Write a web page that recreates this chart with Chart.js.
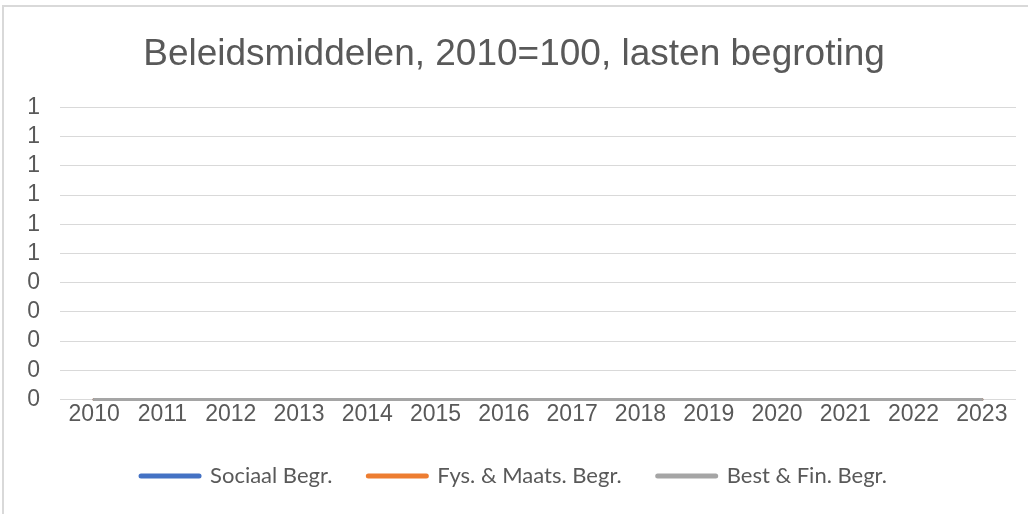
<!DOCTYPE html>
<html lang="nl">
<head>
<meta charset="UTF-8">
<title>Beleidsmiddelen</title>
<style>
    html, body {
        margin: 0;
        padding: 0;
        background: #ffffff;
        overflow: hidden;
    }
    #wrap {
        position: relative;
        width: 1028px;
        height: 514px;
    }
    #frame {
        position: absolute;
        left: 2px;
        top: 5px;
        width: 1100px;
        height: 600px;
        border: 2px solid #d9d9d9;
        pointer-events: none;
    }
</style>
<script src="https://cdn.jsdelivr.net/npm/chart.js"></script>
</head>
<body>
<div id="wrap">
    <canvas id="lineChart" width="1028" height="514"></canvas>
    <div id="frame"></div>
</div>

<script>
// data (all series sit on the zero line)
var years = ['2010', '2011', '2012', '2013', '2014', '2015', '2016', '2017', '2018', '2019', '2020', '2021', '2022', '2023'];
var sociaal = [0, 0, 0, 0, 0, 0, 0, 0, 0, 0, 0, 0, 0, 0];
var fysMaats = [0, 0, 0, 0, 0, 0, 0, 0, 0, 0, 0, 0, 0, 0];
var bestFin = [0, 0, 0, 0, 0, 0, 0, 0, 0, 0, 0, 0, 0, 0];
var seriesNames = ['Sociaal Begr.', 'Fys. & Maats. Begr.', 'Best & Fin. Begr.'];
var seriesColors = ['#4472c4', '#ed7d31', '#a5a5a5'];

function makeSet(i, values) {
    return {
        label: seriesNames[i],
        data: values,
        borderColor: seriesColors[i],
        backgroundColor: seriesColors[i],
        borderWidth: 3,
        borderCapStyle: 'round',
        pointRadius: 0,
        pointHoverRadius: 0,
        pointStyle: 'line',
        tension: 0,
        clip: false,
        order: 3 - i // last series painted on top, like Excel
    };
}

var ctx = document.getElementById('lineChart').getContext('2d');

new Chart(ctx, {
    type: 'line',
    data: {
        labels: years,
        datasets: [makeSet(0, sociaal), makeSet(1, fysMaats), makeSet(2, bestFin)]
    },
    options: {
        responsive: false,
        animation: false,
        layout: {
            padding: { left: 12, right: 12, top: 33, bottom: 17 }
        },
        plugins: {
            title: {
                display: true,
                text: 'Beleidsmiddelen, 2010=100, lasten begroting',
                color: '#595959',
                font: { family: 'Liberation Sans', size: 37, weight: 'normal' },
                padding: { top: 0, bottom: 30 }
            },
            legend: {
                position: 'bottom',
                labels: {
                    usePointStyle: true,
                    pointStyleWidth: 58,
                    color: '#595959',
                    font: { family: 'Lato', size: 22 },
                    padding: 36,
                    generateLabels: function(chart) {
                        var items = Chart.defaults.plugins.legend.labels.generateLabels(chart);
                        items.forEach(function(it) { it.lineWidth = 5; it.lineCap = 'round'; });
                        items.sort(function(a, b) { return a.datasetIndex - b.datasetIndex; });
                        return items;
                    }
                }
            },
            tooltip: { enabled: false }
        },
        scales: {
            x: {
                offset: true,
                grid: { display: false, drawTicks: false },
                border: { display: false },
                ticks: {
                    color: '#595959',
                    font: { family: 'Liberation Sans', size: 23 },
                    maxRotation: 0,
                    padding: 1
                }
            },
            y: {
                min: 0,
                max: 1,
                afterFit: function(scale) { scale.width = 48; },
                grid: { color: '#d9d9d9', lineWidth: 1, drawTicks: false },
                border: { display: false },
                ticks: {
                    stepSize: 0.1,
                    autoSkip: false,
                    color: '#595959',
                    font: { family: 'Liberation Sans', size: 23 },
                    padding: 20,
                    callback: function(v) { return Math.round(Number(v.toFixed(4))); }
                }
            }
        }
    }
});
</script>
</body>
</html>
